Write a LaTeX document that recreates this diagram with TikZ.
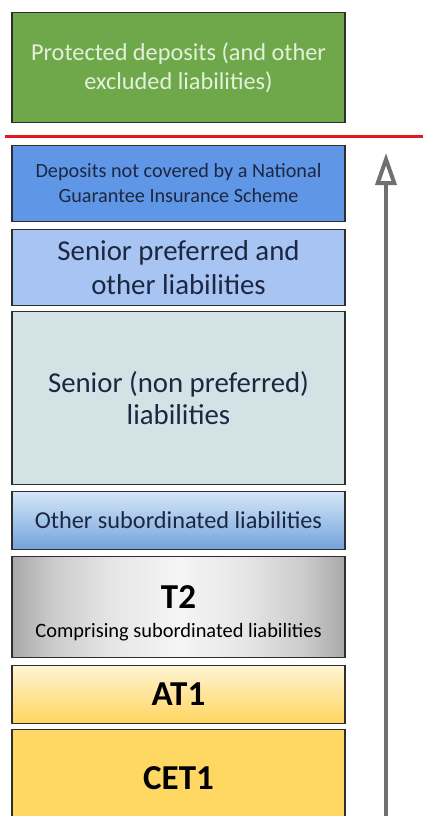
\documentclass[tikz,border=0pt]{standalone}
\usepackage{fontspec}
\setmainfont{Carlito}
\usetikzlibrary{arrows.meta}

\definecolor{protgreen}{HTML}{6FA84A}
\definecolor{protgreentext}{HTML}{E4F1DA}
\definecolor{depblue}{HTML}{6096E6}
\definecolor{seniorblue}{HTML}{A7C4F2}
\definecolor{seniorgrey}{HTML}{D3E2E4}
\definecolor{subtop}{HTML}{D5E6F8}
\definecolor{subbot}{HTML}{73A3DC}
\definecolor{tieredge}{HTML}{A8A8A8}
\definecolor{tiermid}{HTML}{CBCBCB}
\definecolor{tierlight}{HTML}{E6E6E6}
\definecolor{tiercentre}{HTML}{F5F5F5}
\definecolor{attop}{HTML}{FFF4D4}
\definecolor{atbot}{HTML}{FFD55E}
\definecolor{cetyellow}{HTML}{FFD863}
\definecolor{navytext}{HTML}{1C2742}
\definecolor{cutred}{HTML}{E3171E}
\definecolor{arrowgrey}{HTML}{707070}
\definecolor{edge}{HTML}{2E2E2E}

% grey sheen: dark at the left and right edges, light in the middle
\pgfdeclarehorizontalshading{tiersheen}{100bp}{%
  color(0bp)=(tieredge); color(25bp)=(tieredge); color(31bp)=(tiermid);
  color(40bp)=(tierlight); color(50bp)=(tiercentre); color(60bp)=(tierlight);
  color(69bp)=(tiermid); color(75bp)=(tieredge); color(100bp)=(tieredge)}

\tikzset{
  layer/.style={draw=edge, line width=1.1pt, rectangle, minimum width=333pt,
    inner sep=0pt, align=center, anchor=north, text=navytext},
  caption/.style={inner sep=0pt, anchor=base, text=black},
}

\begin{document}
\begin{tikzpicture}[x=1pt,y=-1pt]
  \useasboundingbox (0,0) rectangle (423,816);

  % liabilities outside bail-in
  \node[layer, fill=protgreen, text=protgreentext, minimum height=110pt,
        font=\fontsize{24.3}{29}\selectfont] (prot) at (178.5,12)
        {Protected deposits (and other\\excluded liabilities)};

  % bail-in cut line
  \coordinate (cutL) at (5,136);
  \coordinate (cutR) at (423,136);
  \draw[cutred, line width=3pt] (cutL) -- (cutR);

  % creditor hierarchy, top to bottom
  \node[layer, fill=depblue, minimum height=76pt,
        font=\fontsize{20.2}{25}\selectfont] (dep) at (178.5,145)
        {Deposits not covered by a National\\Guarantee Insurance Scheme};
  \node[layer, fill=seniorblue, minimum height=76pt,
        font=\fontsize{28.8}{34}\selectfont] (spref) at (178.5,229)
        {Senior preferred and\\other liabilities};
  \node[layer, fill=seniorgrey, minimum height=173pt,
        font=\fontsize{28.8}{32}\selectfont] (snp) at (178.5,311)
        {Senior (non preferred)\\liabilities};
  \node[layer, top color=subtop, bottom color=subbot, minimum height=58pt,
        font=\fontsize{24.3}{29}\selectfont] (sub) at (178.5,491)
        {Other subordinated liabilities};
  \node[layer, shading=tiersheen, minimum height=101pt] (t2) at (178.5,556) {};
  \node[caption, font=\fontsize{35}{36}\selectfont\bfseries] (t2title)
        at (178.5,608) {T2};
  \node[caption, font=\fontsize{20.4}{24}\selectfont] (t2sub)
        at (178.5,637) {Comprising subordinated liabilities};
  \node[layer, top color=attop, bottom color=atbot, minimum height=58pt,
        text=black, font=\fontsize{35}{36}\selectfont\bfseries] (at1) at (178.5,665)
        {AT1};
  \node[layer, fill=cetyellow, minimum height=98pt, text=black,
        font=\fontsize{35}{36}\selectfont\bfseries] (cet) at (178.5,729)
        {CET1};

  % loss absorption order
  \coordinate (arrLow) at (386,818);
  \coordinate (arrHigh) at (386,153);
  \draw[arrowgrey, line width=4pt,
        -{Triangle[open, length=32pt, width=21pt]}] (arrLow) -- (arrHigh);
\end{tikzpicture}
\end{document}
